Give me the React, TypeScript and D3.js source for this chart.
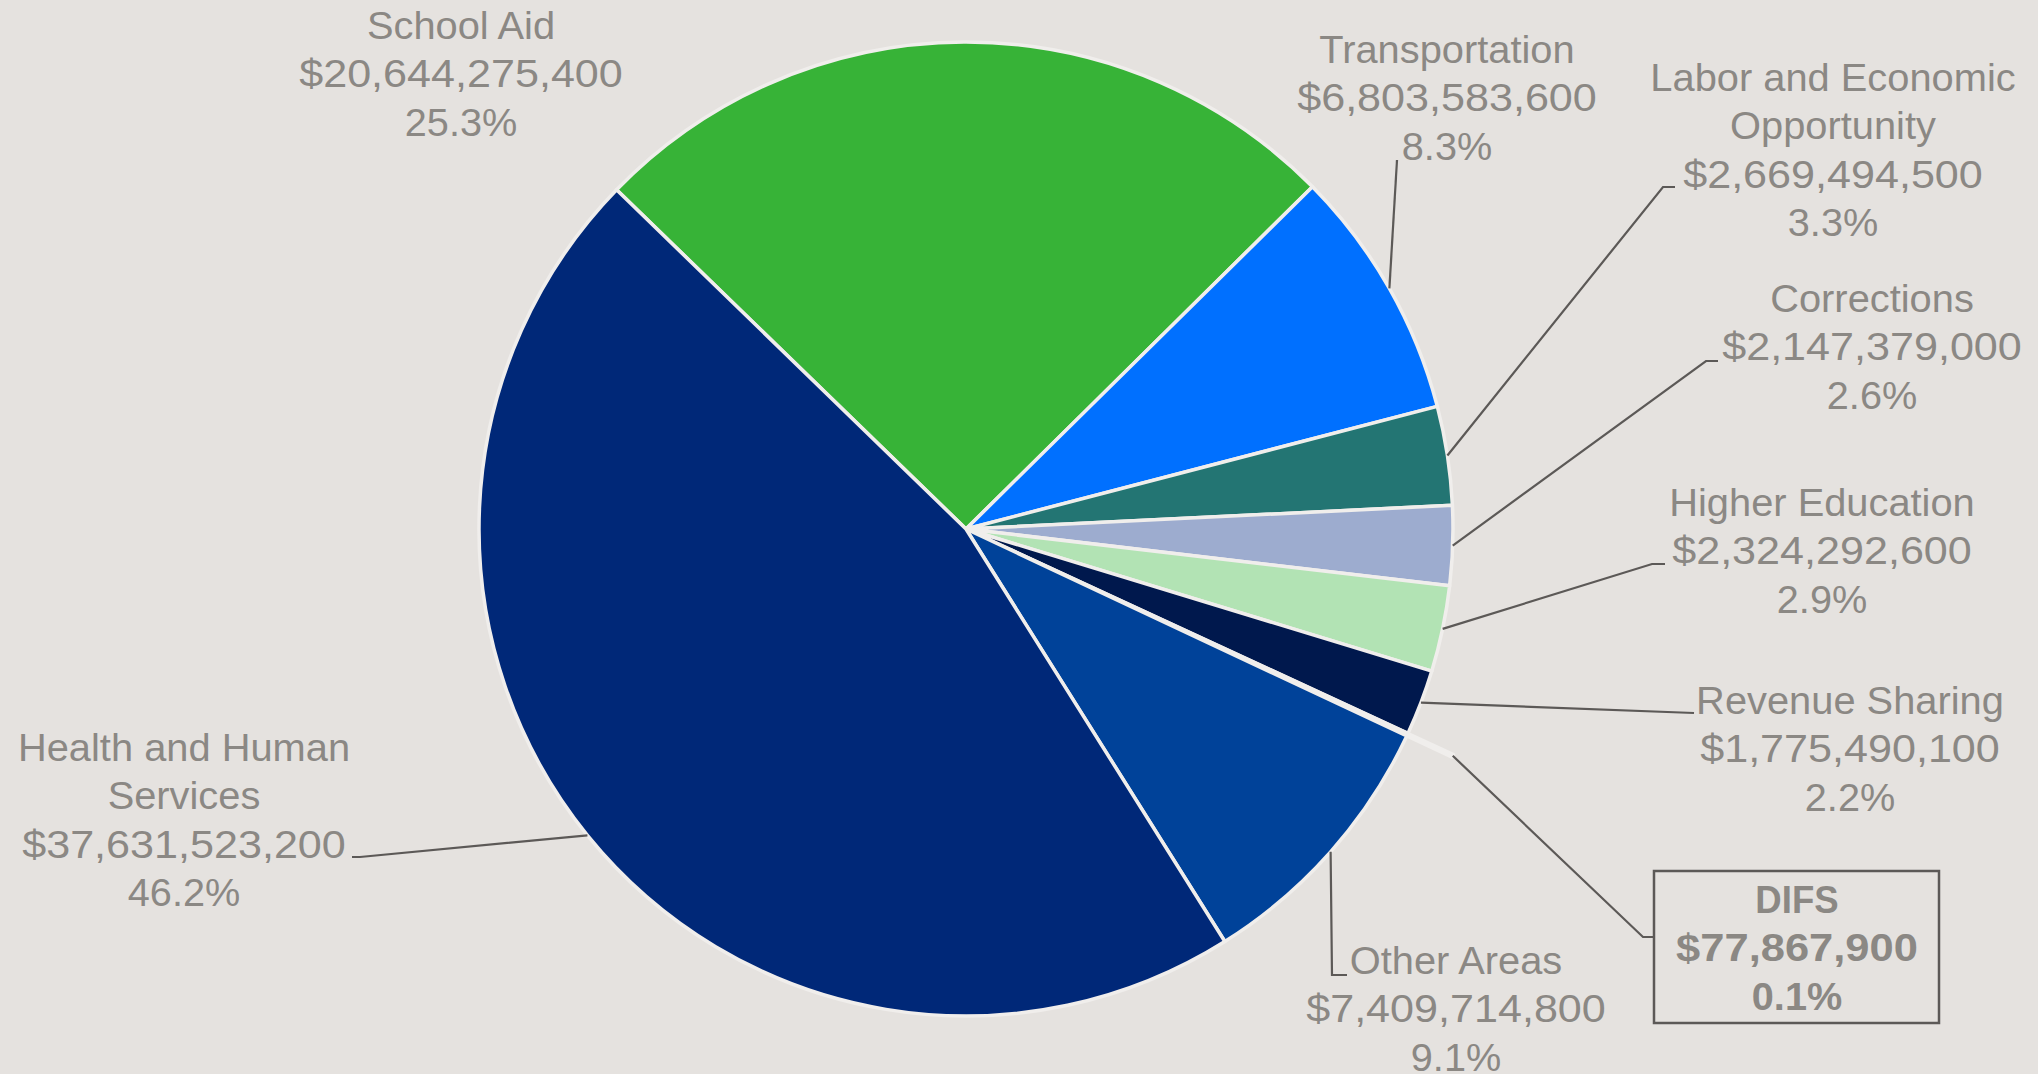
import React from "react";
import * as d3 from "d3";

// ---------- data ----------
const categories = [
  "School Aid",
  "Transportation",
  "Labor and Economic Opportunity",
  "Corrections",
  "Higher Education",
  "Revenue Sharing",
  "DIFS",
  "Other Areas",
  "Health and Human Services",
];
const amounts = [
  20644275400, 6803583600, 2669494500, 2147379000, 2324292600, 1775490100,
  77867900, 7409714800, 37631523200,
];

// ---------- styles / layout ----------
const W = 2038;
const H = 1074;
const BG = "#E5E2DF";
const TEXT = "#8B8884";
const LINE = "#5C5957";
const BORDER = "#F0EEEC";
const colors = [
  "#37B337", "#0070FF", "#237573", "#9DACCF", "#B2E3B4",
  "#00184D", "#F2F1F0", "#004299", "#002878",
];
const CX = 966;
const CY = 529;
const R = 487;
const START_DEG = -45.85;
const FS = 38.5;
const LH = 48.3;

type Layout = {
  cx: number;
  y0: number;
  nameLines: string[];
  leader: [number, number][] | null;
  explode?: number;
  box?: [number, number, number, number];
  bold?: boolean;
};

const layouts: Layout[] = [
  { cx: 461, y0: 39, nameLines: ["School Aid"], leader: null },
  { cx: 1447, y0: 63, nameLines: ["Transportation"], leader: [[1397, 160]] },
  { cx: 1833, y0: 91, nameLines: ["Labor and Economic", "Opportunity"], leader: [[1663, 187], [1675, 187]] },
  { cx: 1872, y0: 312, nameLines: ["Corrections"], leader: [[1706, 361], [1718, 361]] },
  { cx: 1822, y0: 516, nameLines: ["Higher Education"], leader: [[1652, 564], [1665, 564]] },
  { cx: 1850, y0: 714, nameLines: ["Revenue Sharing"], leader: [[1694, 713]] },
  { cx: 1797, y0: 913, nameLines: ["DIFS"], leader: [[1643, 937], [1654, 937]], explode: 50, box: [1654, 871, 1939, 1023], bold: true },
  { cx: 1456, y0: 974, nameLines: ["Other Areas"], leader: [[1332, 975], [1347, 975]] },
  { cx: 184, y0: 761, nameLines: ["Health and Human", "Services"], leader: [[360, 857], [352, 857]] },
];

const fmtMoney = d3.format("$,");
const fmtPct = d3.format(".1%");

export default function App() {
  const data = categories.map((c, i) => ({ name: c, value: amounts[i], i }));
  const total = d3.sum(amounts);
  const rad = (d: number) => (d * Math.PI) / 180;
  const pie = d3
    .pie<any>()
    .sort(null)
    .value((d: any) => d.value)
    .startAngle(rad(START_DEG))
    .endAngle(rad(START_DEG + 360));
  const arcs = pie(data);
  const arc = d3.arc<any>().innerRadius(0).outerRadius(R);
  const edge = d3.arc<any>().innerRadius(R).outerRadius(R);

  const offsetOf = (a: any, dist: number): [number, number] => {
    const m = (a.startAngle + a.endAngle) / 2;
    return [Math.sin(m) * dist, -Math.cos(m) * dist];
  };

  return (
    <svg
      width={W}
      height={H}
      style={{ position: "fixed", left: 0, top: 0, display: "block" }}
      fontFamily="'Liberation Sans', Arial, sans-serif"
    >
      <rect x={0} y={0} width={W} height={H} fill={BG} />
      <g transform={`translate(${CX},${CY})`}>
        {arcs.map((a, k) => {
          const lay = layouts[k];
          const [ox, oy] = lay.explode ? offsetOf(a, lay.explode) : [0, 0];
          return (
            <path
              key={k}
              d={arc(a) as string}
              transform={`translate(${ox},${oy})`}
              fill={colors[k]}
              stroke={BORDER}
              strokeWidth={3.5}
              strokeLinejoin="round"
            />
          );
        })}
      </g>
      {/* leader lines */}
      {arcs.map((a, k) => {
        const lay = layouts[k];
        if (!lay.leader) return null;
        let p = edge.centroid(a);
        if (lay.explode) {
          const [ox, oy] = offsetOf(a, lay.explode);
          p = [p[0] + ox, p[1] + oy];
        }
        const pts: [number, number][] = [[CX + p[0], CY + p[1]], ...lay.leader];
        return (
          <path
            key={"l" + k}
            d={d3.line()(pts) as string}
            fill="none"
            stroke={LINE}
            strokeWidth={2.2}
          />
        );
      })}
      {/* labels */}
      {arcs.map((a, k) => {
        const lay = layouts[k];
        const lines = [
          ...lay.nameLines.map((t) => ({ t, sx: lay.bold ? 0.95 : 1.035 })),
          { t: fmtMoney(amounts[k]), sx: lay.bold ? 1.13 : 1.12 },
          { t: fmtPct(amounts[k] / total), sx: 1.03 },
        ];
        return (
          <g key={"t" + k}>
            {lay.box && (
              <rect
                x={lay.box[0]}
                y={lay.box[1]}
                width={lay.box[2] - lay.box[0]}
                height={lay.box[3] - lay.box[1]}
                fill="none"
                stroke={LINE}
                strokeWidth={2.5}
              />
            )}
            {lines.map((ln, j) => (
              <text
                key={j}
                transform={`translate(${lay.cx},${lay.y0 + j * LH}) scale(${ln.sx},1)`}
                textAnchor="middle"
                fontSize={FS}
                fontWeight={lay.bold ? 700 : 400}
                fill={TEXT}
              >
                {ln.t}
              </text>
            ))}
          </g>
        );
      })}
    </svg>
  );
}
